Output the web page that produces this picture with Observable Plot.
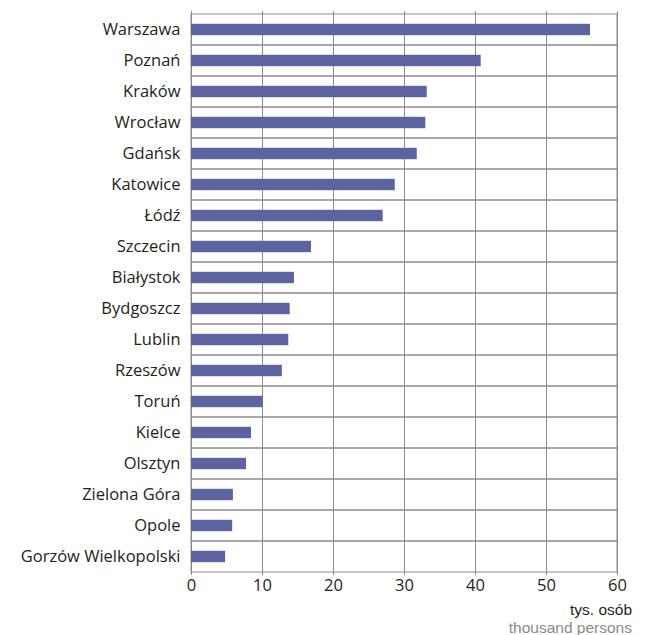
<!DOCTYPE html>
<html>
<head>
<meta charset="utf-8">
<script src="https://cdn.jsdelivr.net/npm/d3@7"></script>
<script src="https://cdn.jsdelivr.net/npm/@observablehq/plot@0.6"></script>
<style>
  body { margin: 0; background: #fff; }
  #chart { width: 649px; }
  #chart svg { display: block; }
  .units { width: 649px; box-sizing: border-box; padding: 1px 17px 0 0; text-align: right;
           font-family: 'Liberation Sans', Arial, sans-serif; font-size: 15.5px; line-height: 18px; }
  .units div { height: 18px; }
</style>
</head>
<body>
<div id="chart"></div>
<script>
const cities = ["Warszawa","Poznań","Kraków","Wrocław","Gdańsk","Katowice","Łódź","Szczecin","Białystok","Bydgoszcz","Lublin","Rzeszów","Toruń","Kielce","Olsztyn","Zielona Góra","Opole","Gorzów Wielkopolski"];
const values = [56.2, 40.8, 33.2, 33.0, 31.8, 28.7, 27.0, 16.9, 14.5, 13.9, 13.7, 12.8, 10.1, 8.45, 7.75, 5.9, 5.8, 4.8];
const xTicks = [0, 10, 20, 30, 40, 50, 60];
const unitLabels = ["tys. osób", "thousand persons"];
const unitColors = ["#231f20", "#8a8a8a"];

const data = cities.map((c, i) => ({city: c, value: values[i]}));

const chart = Plot.plot({
  width: 649,
  height: 600,
  marginLeft: 191,
  marginRight: 32,
  marginTop: 11,
  marginBottom: 25,
  style: {fontFamily: "'Open Sans', sans-serif", fontSize: "16.5px", color: "#231f20", background: "#fff"},
  x: {domain: [0, 60], ticks: xTicks, label: null},
  y: {domain: cities, padding: 0, label: null},
  marks: [
    Plot.barX(data, {y: "city", x1: 0, x2: 60, fill: "none", stroke: "#8c8c8c", strokeWidth: 1}),
    Plot.ruleX(xTicks, {stroke: "#8c8c8c", strokeWidth: 1}),
    Plot.barX(data, {y: "city", x: "value", fill: "#5b64a0", insetTop: 9.8, insetBottom: 9.8}),
    Plot.axisX({ticks: xTicks, tickSize: 0, tickPadding: 4, label: null, fontSize: 16.5, fill: "#231f20"}),
    Plot.axisY({tickSize: 0, tickPadding: 11, label: null, fontSize: 16.5, fill: "#231f20"})
  ]
});
const root = document.getElementById("chart");
root.append(chart);
const units = document.createElement("div");
units.className = "units";
unitLabels.forEach((t, i) => {
  const d = document.createElement("div");
  d.textContent = t;
  d.style.color = unitColors[i];
  units.append(d);
});
root.append(units);
</script>
</body>
</html>
